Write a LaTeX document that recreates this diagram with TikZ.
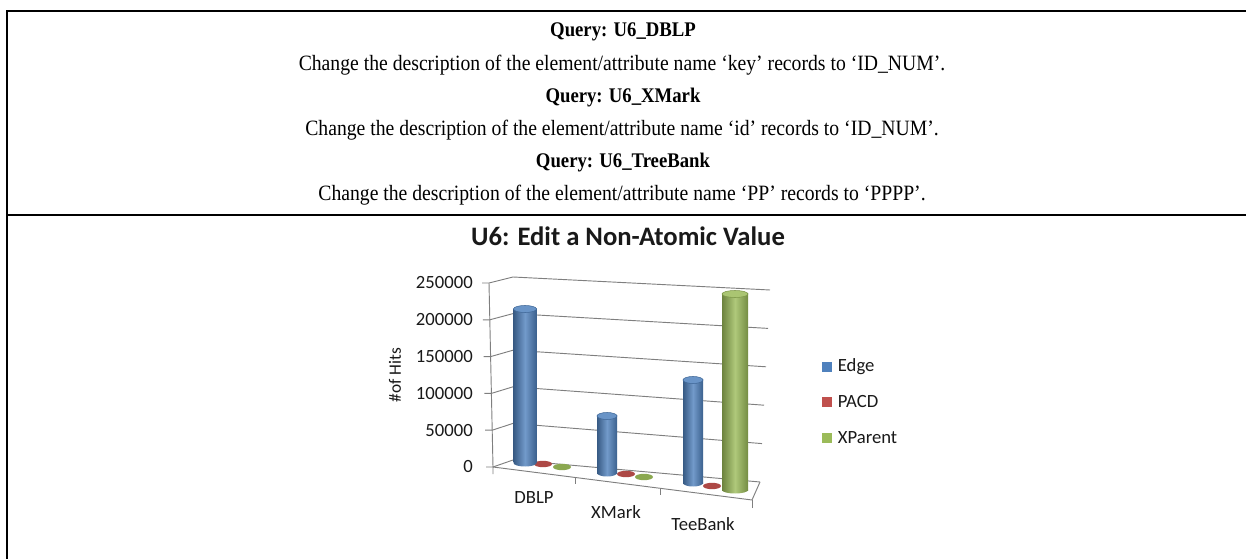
\documentclass[tikz,border=0pt]{standalone}
\usepackage{fontspec}
\setmainfont[FakeStretch=0.9]{Liberation Serif}
\newfontfamily\chartfont{Carlito}
\usetikzlibrary{positioning}
\definecolor{edgeblue}{HTML}{4F81BD}
\definecolor{pacdred}{HTML}{C0504D}
\definecolor{xpgreen}{HTML}{9BBB59}
\definecolor{gridgray}{HTML}{7F7F7F}
\begin{document}
\begin{tikzpicture}[x=0.75pt, y=-0.75pt,
    query/.style={font=\fontsize{15.6}{18}\selectfont\bfseries, inner sep=0pt},
    row/.style={font=\fontsize{16.4}{18}\selectfont, inner sep=0pt},
    chart/.style={font=\chartfont\fontsize{14}{16}\selectfont, text=black!90, inner sep=0pt},
    grid/.style={gridgray, line width=0.7pt}]
  \useasboundingbox (0,0) rectangle (1246,559);

  % table rules
  \draw[line width=1.5pt] (7,559) -- (7,11) -- (1246,11);
  \draw[line width=1.5pt] (7,215) -- (1246,215);

  \node[query] (q1) at (623,32) {Query: U6\_DBLP};
  \node[row] (r1) at (622,65) {Change the description of the element/attribute name ‘key’ records to ‘ID\_NUM’.};
  \node[query] (q2) at (623,98) {Query: U6\_XMark};
  \node[row] (r2) at (622,130) {Change the description of the element/attribute name ‘id’ records to ‘ID\_NUM’.};
  \node[query] (q3) at (623,163) {Query: U6\_TreeBank};
  \node[row] (r3) at (622,195) {Change the description of the element/attribute name ‘PP’ records to ‘PPPP’.};

  % chart
  \node[chart, font=\chartfont\bfseries\fontsize{20}{24}\selectfont] (title) at (628,236) {U6: Edit a Non-Atomic Value};

  \foreach \k/\v in {0/0, 1/50000, 2/100000, 3/150000, 4/200000, 5/250000} {
    \pgfmathsetmacro\fy{467-36.8*\k}
    \pgfmathsetmacro\fx{493-0.8*\k}
    \pgfmathsetmacro\by{460-36.6*\k}
    \pgfmathsetmacro\rx{760+2*\k}
    \pgfmathsetmacro\ry{482-38.4*\k}
    \draw[grid] (\fx-7,\fy) -- (\fx,\fy) -- (513,\by) -- (\rx,\ry);
    \node[chart, anchor=east] (y\k) at (473,\fy) {\v};
  }
  \draw[grid] (493,467) -- (489,283);
  \draw[grid] (493,474) -- (493,467) -- (752,500) -- (760,482);
  \draw[grid] (752,508) -- (752,500);
  \draw[grid] (575,477) -- (575,484);
  \draw[grid] (660,488) -- (660,495);

  % flat bars
  \foreach \x/\y/\c in {543/464/pacdred, 562/467/xpgreen, 626/474/pacdred, 644/477/xpgreen, 712/486/pacdred}
    \fill[\c!90!black] (\x,\y) ellipse [x radius=9*0.75pt, y radius=3.2*0.75pt];

  % cylinders
  \foreach \x/\b/\t/\r/\c in {525/463/309/11.5/edgeblue, 607/473/416/10/edgeblue, 693/483/380/10/edgeblue, 735/490/294/13/xpgreen} {
    \shade[left color=\c!70!black, right color=\c!75!black, middle color=\c!80!white] (\x,\b) ellipse [x radius=\r*0.75pt, y radius=3.5*0.75pt];
    \shade[left color=\c!70!black, right color=\c!75!black, middle color=\c!80!white] (\x-\r,\t) rectangle (\x+\r,\b);
    \filldraw[fill=\c!85!white, draw=\c!80!black, line width=0.4pt] (\x,\t) ellipse [x radius=\r*0.75pt, y radius=3.5*0.75pt];
  }

  \node[chart] (c1) at (534,498) {DBLP};
  \node[chart] (c2) at (616,512) {XMark};
  \node[chart] (c3) at (703,524) {TeeBank};
  \node[chart, rotate=90, font=\chartfont\fontsize{13}{15}\selectfont] (ytitle) at (395,375) {\#of Hits};

  % legend
  \foreach \n/\c/\t/\y in {edge/edgeblue/Edge/367, pacd/pacdred/PACD/402, xparent/xpgreen/XParent/438} {
    \node[fill=\c, inner sep=0pt, minimum width=7.5pt, minimum height=7pt] (k\n) at (827,\y) {};
    \node[chart, right=4pt of k\n] (t\n) {\t};
  }
\end{tikzpicture}
\end{document}
